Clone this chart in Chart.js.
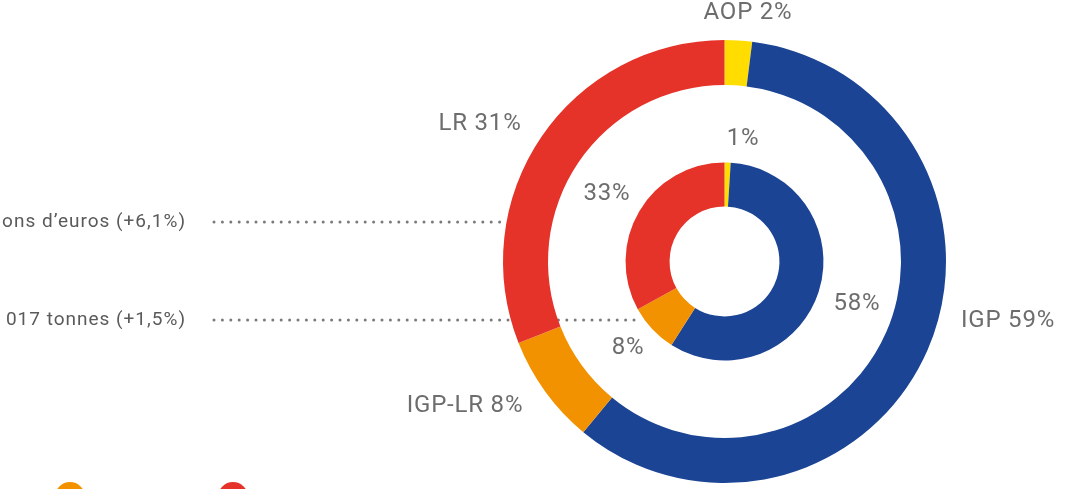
<!DOCTYPE html>
<html>
<head>
<meta charset="utf-8">
<script src="https://cdn.jsdelivr.net/npm/chart.js@4/dist/chart.umd.min.js"></script>
<style>
  html, body { margin: 0; padding: 0; background: #fff; }
  #box { position: relative; width: 1077px; height: 489px; }
</style>
</head>
<body>
<div id="box"><canvas id="chart"></canvas></div>
<script>
// signs of quality, share of value (outer) and volume (inner)
const categories = ['AOP', 'IGP', 'IGP-LR', 'LR'];
const outerShares = [2, 59, 8, 31];
const innerShares = [1, 58, 8, 33];
const colors = ['#ffdd00', '#1b4495', '#f39200', '#e53329'];
const sideNotes = ['ons d’euros (+6,1%)', '017 tonnes (+1,5%)'];

const TEXT = '#6d6d6d';
const FONT = 'Roboto, "Open Sans", sans-serif';

const dottedLine = (ctx, x0, x1, y) => {
  ctx.fillStyle = '#7a7a7a';
  for (let x = x0; x <= x1; x += 8.4) {
    ctx.beginPath();
    ctx.arc(x, y, 1.5, 0, Math.PI * 2);
    ctx.fill();
  }
};

const decorations = {
  id: 'decorations',
  beforeDatasetsDraw(chart) {
    const { ctx } = chart;
    ctx.save();
    // side notes + leader dots
    ctx.font = '19px ' + FONT;
    ctx.letterSpacing = '1px';
    ctx.fillStyle = '#5a5a5a';
    ctx.textAlign = 'right';
    ctx.textBaseline = 'middle';
    ctx.fillText(sideNotes[0], 186, 222);
    ctx.fillText(sideNotes[1], 186, 320);
    dottedLine(ctx, 214, 506, 222);
    dottedLine(ctx, 214, 640, 320);

    // legend dots (cut by the bottom edge)
    [[70, colors[2]], [233, colors[3]]].forEach(([x, c]) => {
      ctx.fillStyle = c;
      ctx.beginPath();
      ctx.arc(x, 497, 15, 0, Math.PI * 2);
      ctx.fill();
    });
    ctx.restore();
  },
  afterDatasetsDraw(chart) {
    const { ctx } = chart;
    ctx.save();
    ctx.font = '24px ' + FONT;
    ctx.letterSpacing = '0.8px';
    ctx.fillStyle = TEXT;
    ctx.textAlign = 'center';
    ctx.textBaseline = 'middle';
    const outerSpots = [[748, 13], [1008, 321], [465, 406], [480, 124]];
    const innerSpots = [[743, 139], [857, 304], [628, 348], [607, 194]];
    categories.forEach((cat, i) => {
      ctx.fillText(cat + ' ' + outerShares[i] + '%', outerSpots[i][0], outerSpots[i][1]);
      ctx.fillText(innerShares[i] + '%', innerSpots[i][0], innerSpots[i][1]);
    });
    ctx.restore();
  },
};

const data = {
  labels: categories,
  datasets: [
    { data: outerShares, backgroundColor: colors, borderWidth: 0, weight: 45 },
    { data: [1], backgroundColor: ['rgba(0,0,0,0)'], borderWidth: 0, weight: 77.5 },
    { data: innerShares, backgroundColor: colors, borderWidth: 0, weight: 44 },
  ],
};

new Chart(document.getElementById('chart'), {
  type: 'doughnut',
  data,
  options: {
    responsive: true,
    maintainAspectRatio: false,
    animation: false,
    cutout: '24.8%',
    rotation: 0,
    layout: { padding: { left: 503, right: 131, top: 40, bottom: 6 } },
    plugins: {
      legend: { display: false },
      tooltip: { enabled: false },
    },
  },
  plugins: [decorations],
});
</script>
</body>
</html>
